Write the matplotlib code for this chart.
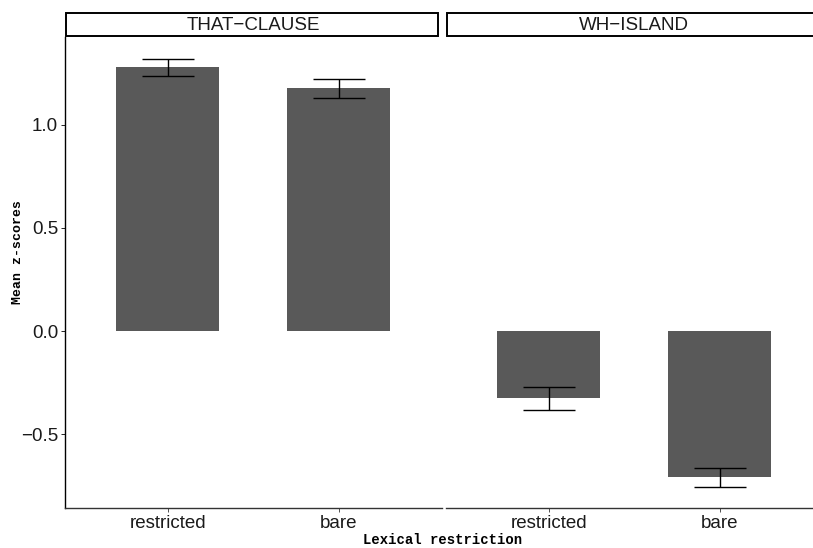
import matplotlib.pyplot as plt
from matplotlib.patches import Rectangle

# valores
paineis = ["THAT-CLAUSE", "WH-ISLAND"]
categorias = ["restricted", "bare"]
medias_that = [1.278, 1.175]
erro_that = [0.041, 0.048]
medias_wh = [-0.326, -0.708]
erro_wh = [0.056, 0.046]
ticks_y = [-0.5, 0.0, 0.5, 1.0]

W, H = 813, 548
fig = plt.figure(figsize=(W / 100, H / 100), dpi=100)
fig.patch.set_facecolor("white")

# posicoes em pixels (o painel direito passa da borda, como no original)
px_left = [65, 446]
px_w = 376.5
y_bottom, y_top = 508, 37
strip_top = 12

dados = [(medias_that, erro_that), (medias_wh, erro_wh)]
pos = [1, 2]
fonte = 13.5

for i, nome in enumerate(paineis):
    x0 = px_left[i]
    ax = fig.add_axes([x0 / W, (H - y_bottom) / H, px_w / W, (y_bottom - y_top) / H])
    medias, erros = dados[i]
    ax.bar(pos, medias, width=0.6, color="#595959", zorder=2)
    ax.errorbar(pos, medias, yerr=erros, fmt="none", ecolor="black",
                elinewidth=1.0, capsize=19, capthick=1.0, zorder=3)
    ax.set_xlim(0.4, 2.6)
    ax.set_ylim(-0.857, 1.424)
    ax.set_xticks(pos)
    ax.set_xticklabels(categorias, fontsize=fonte, family="Liberation Sans", color="#1a1a1a")
    ax.spines["top"].set_visible(False)
    ax.spines["right"].set_visible(False)
    ax.spines["bottom"].set_color("#333333")
    ax.spines["bottom"].set_linewidth(1.0)
    ax.tick_params(axis="x", length=3, width=0.6, color="#333333", pad=2)
    if i == 0:
        ax.set_yticks(ticks_y)
        ax.set_yticklabels([f"{t:.1f}".replace("-", "\u2212") for t in ticks_y],
                           fontsize=fonte, family="Liberation Sans", color="#1a1a1a")
        ax.spines["left"].set_linewidth(1.0)
        ax.tick_params(axis="y", length=3, width=0.6, pad=2)
    else:
        ax.set_yticks([])
        ax.spines["left"].set_visible(False)

    # faixa do titulo do painel
    sax = fig.add_axes([x0 / W, (H - y_top) / H, px_w / W, (y_top - strip_top) / H])
    sax.set_xlim(0, 1)
    sax.set_ylim(0, 1)
    sax.axis("off")
    sax.add_patch(Rectangle((0.002, 0.03), 0.99 if i == 0 else 1.2, 0.94, facecolor="white",
                            edgecolor="black", linewidth=1.4, clip_on=False))
    sax.text(0.5, 0.46, nome.replace("-", "\u2212"), ha="center", va="center",
             fontsize=fonte, family="Liberation Sans", color="#1a1a1a")

fig.text(443 / W, 1 - 540 / H, "Lexical restriction", ha="center", va="center",
         fontsize=10, family="Liberation Mono", fontweight="bold")
fig.text(18 / W, 1 - 252 / H, "Mean z-scores", ha="center", va="center", rotation=90,
         fontsize=9.5, family="Liberation Mono", fontweight="bold")

fig.savefig("out.png", dpi=100)
